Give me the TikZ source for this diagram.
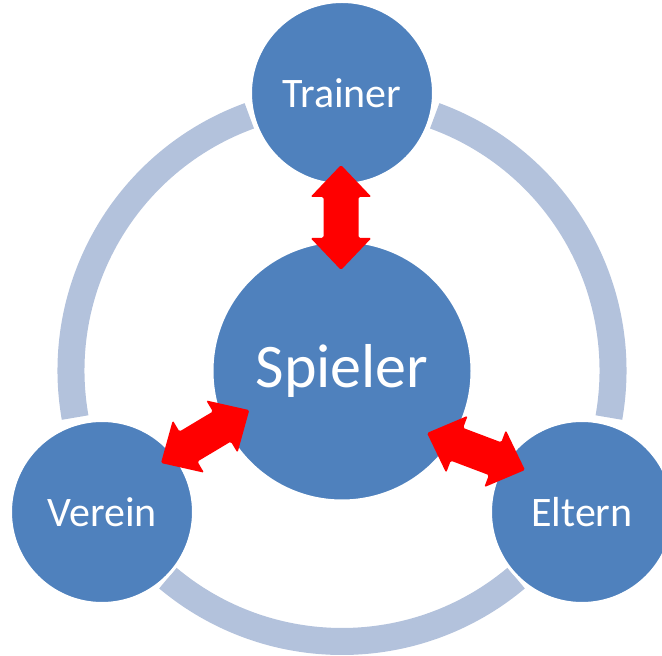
\documentclass[tikz,border=0pt]{standalone}
\usepackage{fontspec}
\setmainfont{Carlito}
\usetikzlibrary{calc}
\definecolor{nodeblue}{RGB}{79,129,189}
\definecolor{ringblue}{RGB}{179,194,220}
\definecolor{arrred}{RGB}{255,0,0}
\tikzset{
  bubble/.style={circle, fill=nodeblue, draw=white, line width=3pt, inner sep=0pt, text=white},
  smallbubble/.style={bubble, minimum size=183pt, font=\fontsize{42}{50}\selectfont},
  bigbubble/.style={bubble, minimum size=260pt, font=\fontsize{62}{74}\selectfont},
  ringarc/.style={draw=ringblue, line width=27pt, line cap=butt},
  redarrow/.style={fill=arrred, rounded corners=1.5pt}
}
\newcommand\dblarr[2]{%
  \path let \p1=(#1), \p2=(#2) in \pgfextra{%
    \pgfmathsetmacro\tmpang{atan2(\y2-\y1,\x2-\x1)}%
    \pgfmathsetmacro\tmplen{veclen(\x2-\x1,\y2-\y1)}%
    \xdef\arrang{\tmpang}\xdef\arrlen{\tmplen}};
  \pgfmathsetmacro\arrb{\arrlen-32}%
  \fill[redarrow, shift={(#1)}, rotate=\arrang]
    (0,0) -- (32,30.5) -- (32,17.5) -- (\arrb,17.5) -- (\arrb,30.5)
    -- (\arrlen,0) -- (\arrb,-30.5) -- (\arrb,-17.5) -- (32,-17.5)
    -- (32,-30.5) -- cycle;
}
\begin{document}
\begin{tikzpicture}[x=1pt,y=1pt]
\useasboundingbox (0,0) rectangle (662,656);
\clip (0,0) rectangle (662,656);
\coordinate (ringc) at (342,285.5);
% ring arcs
\draw[ringarc] ($(ringc)+(110:271)$) arc[start angle=110, end angle=190, radius=271];
\draw[ringarc] ($(ringc)+(230:271)$) arc[start angle=230, end angle=310, radius=271];
\draw[ringarc] ($(ringc)+(-10:271)$) arc[start angle=-10, end angle=70, radius=271];
% circles
\node[bigbubble] (spieler) at (342,285) {\raisebox{-5pt}{Spieler}};
\node[smallbubble] (trainer) at (342,563) {\raisebox{-2pt}{Trainer}};
\node[smallbubble] (verein) at (102,144) {\raisebox{-2pt}{Verein}};
\node[smallbubble] (eltern) at (582,144) {\raisebox{-2pt}{Eltern}};
% arrow end points
\coordinate (t1) at (341,491);
\coordinate (t2) at (341,386);
\coordinate (v1) at (161,193);
\coordinate (v2) at (249.5,246);
\coordinate (e1) at (427,223);
\coordinate (e2) at (525,186);
\dblarr{t2}{t1}
\dblarr{v1}{v2}
\dblarr{e1}{e2}
\end{tikzpicture}
\end{document}
